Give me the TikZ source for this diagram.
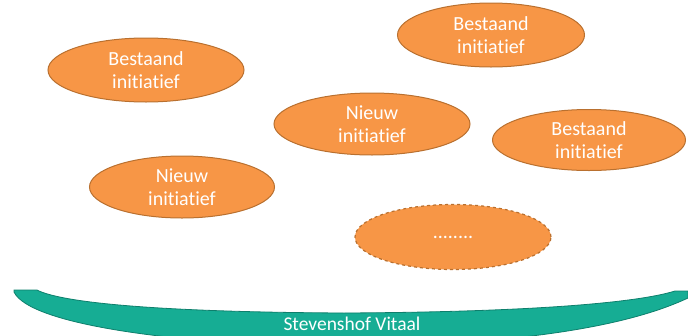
\documentclass[tikz,border=0pt]{standalone}
\usepackage{fontspec}
\setmainfont{Carlito}[RawFeature=-liga]
\usetikzlibrary{shapes.geometric}
\usetikzlibrary{positioning}
\definecolor{oranjevul}{HTML}{F79646}
\definecolor{oranjerand}{HTML}{B9702F}
\definecolor{groenvul}{HTML}{16AD94}
\definecolor{groenrand}{HTML}{0E7F6C}
\tikzset{
  initiatief/.style={ellipse, fill=oranjevul, draw=oranjerand, line width=1pt,
    inner sep=0pt, minimum width=196pt, minimum height=64pt,
    text=white, font=\fontsize{20}{23}\selectfont, align=center},
  nieuwidee/.style={initiatief, dashed, line width=1.2pt}
}

\begin{document}
\begin{tikzpicture}[x=1pt, y=-1pt]
  \useasboundingbox (0,0) rectangle (688,335);
  % de initiatieven
  \node[initiatief] (best1) at (146,70) {Bestaand\\initiatief};
  \node[initiatief, minimum width=187pt] (best2) at (491,35) {Bestaand\\initiatief};
  \node[initiatief, minimum height=62pt] (nieuw1) at (372,124) {Nieuw\\initiatief};
  \node[initiatief, minimum width=193pt, minimum height=61pt] (best3) at (589,140) {Bestaand\\initiatief};
  \node[initiatief, minimum width=185pt, minimum height=62pt] (nieuw2) at (182,187) {Nieuw\\initiatief};
  \node[nieuwidee, minimum height=65pt] (leeg) at (453,237) {........};
  % de drager onderaan
  \filldraw[fill=groenvul, draw=groenrand, line width=0.8pt]
    (14,290) -- (37,290)
    .. controls (60,302) and (150,312) .. (344,313)
    .. controls (540,312) and (640,302) .. (675,291)
    -- (688,291) -- (688,298)
    .. controls (620,330) and (500,345) .. (344,347)
    .. controls (180,345) and (30,325) .. (14,292) -- cycle;
  \node[text=white, font=\fontsize{19.5}{22}\selectfont] (drager) at (352,324) {Stevenshof Vitaal};
\end{tikzpicture}
\end{document}
